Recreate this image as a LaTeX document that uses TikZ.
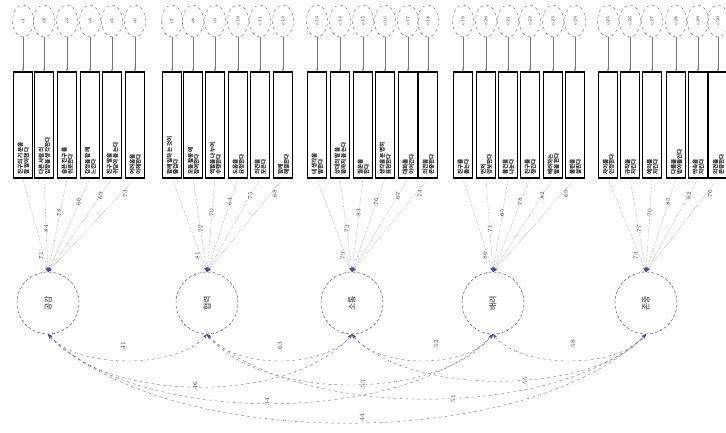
\documentclass[tikz,border=0pt]{standalone}
\usepackage{fontspec}
\newfontfamily\kr{Noto Sans CJK KR}
\usetikzlibrary{arrows.meta,shapes.geometric}
\newcommand\itemtxt[1]{\ifcase#1\or
친구의 기분을\\잘 알아챈다\or 다른 사람의\\입장을 생각한다\or 슬픈 친구를\\위로한다\or 감정을 함께\\느낀다\or 친구 말을\\귀담아 듣는다\or 어려움을\\이해한다\or
함께 일하는 것이\\즐겁다\or 모둠 활동에\\참여한다\or 역할을 나누어\\수행한다\or 도움을\\요청한다\or 의견을\\모은다\or 함께\\해결한다\or
내 생각을\\말한다\or 상대의 말을\\끝까지 듣는다\or 질문을\\한다\or 생각을 분명히\\표현한다\or 대화를\\이어간다\or 의견을\\존중한다\or
친구를\\돕는다\or 먼저\\양보한다\or 물건을\\나눈다\or 친구를\\챙긴다\or 배려하는\\말을 한다\or 불편을\\살핀다\or
차이를\\인정한다\or 규칙을\\지킨다\or 예의를\\지킨다\or 다름을\\받아들인다\or 약속을\\지킨다\or 의견을\\존중한다\fi}
\begin{document}
\begin{tikzpicture}[x=1pt,y=-1pt,
  err/.style={draw=gray!90!black, dashed, ellipse, minimum width=21pt, minimum height=32pt, inner sep=0pt},
  elab/.style={font=\fontsize{4.5}{5}\selectfont, rotate=90, text=black!80},
  itembox/.style={draw=black, line width=1.3pt, minimum width=18.5pt, minimum height=106pt, inner sep=0pt},
  itxt/.style={font=\kr\bfseries\fontsize{5.6}{6.2}\selectfont, rotate=90, anchor=west, align=left, inner sep=0pt, text=black!85},
  fac/.style={circle, draw=gray!50!black, densely dashed, minimum size=62pt, inner sep=0pt},
  flab/.style={font=\kr\fontsize{8}{8}\selectfont, rotate=90, text=black!85},
  earrow/.style={draw=gray!90!black, -{Stealth[length=2.5pt,width=2pt,color=gray]}},
  ld/.style={draw=gray, densely dotted, -{Stealth[length=4.5pt,width=3.2pt,color=blue!45!gray]}},
  cov/.style={draw=gray, dashed, {Stealth[length=4.5pt,width=3.2pt,color=blue!45!gray]}-{Stealth[length=4.5pt,width=3.2pt,color=blue!45!gray]}},
  nlab/.style={font=\fontsize{6}{6}\selectfont, rotate=90, text=black!75, inner sep=0.6pt},
  clab/.style={font=\fontsize{6.5}{6.5}\selectfont, rotate=90, text=black!75, fill=white, inner sep=0.8pt}]
\useasboundingbox[fill=white] (0,0) rectangle (726,432);
% factors
\foreach \g/\fx/\fa in {1/48/공감, 2/207/협력, 3/352/소통, 4/493/배려, 5/646/존중}{
  \node[fac] (f\g) at (\fx,303) {};
  \node[flab] (fl\g) at (\fx,303) {\fa};
}
% indicators
\foreach \g/\xs in {1/{23,44,67,90,112,135}, 2/{172,193,215,238,260,283}, 3/{317,340,363,385,408,428}, 4/{463,486,508,530,553,575}, 5/{608,630,652,676,698,718}}{
  \foreach \x [count=\i] in \xs {
    \pgfmathtruncatemacro\n{(\g-1)*6+\i}
    \pgfmathsetmacro\pp{{0.73,0.55,0.41,0.27,0.18,0.11}[\i-1]}
    \pgfmathsetmacro\xsh{{-10,0,3,1,-1,-6}[\i-1]}
    \pgfmathtruncatemacro\lv{{71,84,78,66,69,73,81,77,70,64,75,68,79,72,83,76,67,74,80,71,65,78,82,69,73,77,70,85,62,76}[\n-1]}
    \node[err] (e\n) at (\x,21) {};
    \node[elab] (el\n) at (\x,21) {e\n};
    \node[itembox] (b\n) at (\x,125) {};
    \node[itxt] (t\n) at (\x+0.5,175) {\itemtxt{\n}};
    \draw[earrow] (e\n) -- (b\n);
    \draw[ld] (b\n.south) -- (f\g.north) node[pos=\pp, nlab, xshift=\xsh pt] {.\lv};
  }
}
% covariances
\draw[cov] (f1.south) .. controls +(30,35) and +(-30,35) .. (f2.south);
\draw[cov] (f2.south) .. controls +(28,35) and +(-28,35) .. (f3.south);
\draw[cov] (f3.south) .. controls +(27,35) and +(-27,35) .. (f4.south);
\draw[cov] (f4.south) .. controls +(29,35) and +(-29,35) .. (f5.south);
\draw[cov] (f1.south) .. controls +(60,70) and +(-60,70) .. (f3.south);
\draw[cov] (f2.south) .. controls +(55,67) and +(-55,67) .. (f4.south);
\draw[cov] (f3.south) .. controls +(55,62) and +(-55,62) .. (f5.south);
\draw[cov] (f1.south) .. controls +(90,92) and +(-90,92) .. (f4.south);
\draw[cov] (f2.south) .. controls +(90,86) and +(-90,86) .. (f5.south);
\draw[cov] (f1.south) .. controls +(120,118) and +(-120,118) .. (f5.south);
\node[clab] (c12) at (123,347) {.41};
\node[clab] (c23) at (280,347) {.63};
\node[clab] (c34) at (436,345) {.52};
\node[clab] (c45) at (573,345) {.58};
\node[clab] (c13) at (195,387) {.46};
\node[clab] (c24) at (363,385) {.53};
\node[clab] (c35) at (525,382) {.55};
\node[clab] (c14) at (267,403) {.34};
\node[clab] (c25) at (453,400) {.51};
\node[clab] (c15) at (362,419) {.44};
\end{tikzpicture}
\end{document}
